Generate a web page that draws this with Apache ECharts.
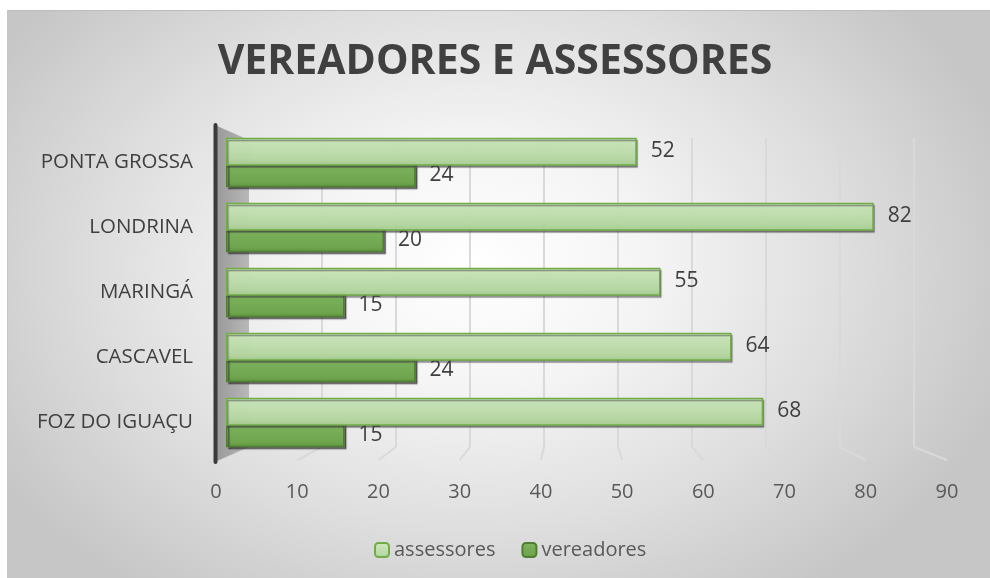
<!DOCTYPE html>
<html>
<head>
<meta charset="utf-8">
<script src="https://cdn.jsdelivr.net/npm/echarts@6/dist/echarts.min.js"></script>
<style>
html,body{margin:0;padding:0;background:#fff;width:990px;height:578px;overflow:hidden;}
#bg{position:absolute;left:7px;top:10px;width:1000px;height:600px;border-top:1px solid #bdbdbd;border-left:1px solid #c4c4c4;
background:radial-gradient(ellipse 560px 400px at 465px 255px,#ffffff 0%,#f5f5f5 30%,#dfdfdf 65%,#c6c6c6 100%);}
#main{position:absolute;left:0;top:0;width:990px;height:578px;}
</style>
</head>
<body>
<div id="bg"></div>
<div id="main"></div>
<script>
const categories = ['FOZ DO IGUAÇU', 'CASCAVEL', 'MARINGÁ', 'LONDRINA', 'PONTA GROSSA'];
const assessores = [68, 64, 55, 82, 52];
const vereadores = [15, 24, 15, 20, 24];
const xTicks = [0, 10, 20, 30, 40, 50, 60, 70, 80, 90];
const titleText = 'VEREADORES E ASSESSORES';

const font = '"Open Sans", "Noto Sans", sans-serif';
const chart = echarts.init(document.getElementById('main'), null, {renderer: 'canvas'});

const labelStyle = {show: true, position: 'right', distance: 14, color: '#404040', fontSize: 21, fontFamily: font};

const option = {
  backgroundColor: 'transparent',
  animation: false,
  title: {
    text: titleText, left: 'center', top: 37,
    textStyle: {fontFamily: font, fontWeight: 'bold', fontSize: 41, color: '#404040'}
  },
  legend: {
    bottom: 13, left: 369, itemWidth: 14, itemHeight: 14, itemGap: 26,
    data: ['assessores', 'vereadores'],
    textStyle: {fontFamily: font, fontSize: 20, color: '#595959'}
  },
  grid: [
    {left: 226, width: 711, top: 130, height: 325},
    {left: 216, width: 731, top: 130, height: 330},
    {left: 248, width: 666, top: 138, height: 309}
  ],
  xAxis: [
    {gridIndex: 0, type: 'value', min: 0, max: 90, interval: 10, show: false, splitLine: {show: false}},
    {gridIndex: 1, type: 'value', min: 0, max: 90, interval: 10,
      axisLine: {show: false}, axisTick: {show: false}, splitLine: {show: false},
      axisLabel: {margin: 22, color: '#595959', fontSize: 20, fontFamily: font,
        formatter: v => xTicks.indexOf(v) >= 0 ? String(v) : ''}},
    {gridIndex: 2, type: 'value', min: 0, max: 90, interval: 10,
      axisLine: {show: false}, axisTick: {show: false}, axisLabel: {show: false},
      splitLine: {show: true, lineStyle: {color: '#d9d9d9', width: 2}}}
  ],
  yAxis: [
    {gridIndex: 0, type: 'category', data: categories,
      axisLine: {show: false}, axisTick: {show: false},
      axisLabel: {margin: 33, color: '#404040', fontSize: 20.5, fontFamily: font}},
    {gridIndex: 1, type: 'value', min: 0, max: 1, show: false},
    {gridIndex: 2, type: 'value', min: 0, max: 1, show: false}
  ],
  series: [
    {
      name: 'assessores', type: 'bar', xAxisIndex: 0, yAxisIndex: 0,
      data: assessores, barWidth: 28, barGap: '-12%', z: 3,
      itemStyle: {
        color: new echarts.graphic.LinearGradient(0, 0, 0, 1, [
          {offset: 0, color: 'rgba(206,234,190,0.95)'},
          {offset: 0.75, color: 'rgba(184,218,164,0.95)'},
          {offset: 1, color: 'rgba(168,206,146,0.95)'}]),
        borderColor: '#70ad47', borderWidth: 1.5,
        shadowColor: 'rgba(60,60,60,0.55)', shadowOffsetX: 1, shadowOffsetY: 2, shadowBlur: 1
      },
      label: Object.assign({}, labelStyle, {offset: [0, -1]})
    },
    {
      name: 'vereadores', type: 'bar', xAxisIndex: 0, yAxisIndex: 0,
      data: vereadores, barWidth: 25, z: 2,
      itemStyle: {
        color: new echarts.graphic.LinearGradient(0, 0, 0, 1, [
          {offset: 0, color: '#7fb460'},
          {offset: 0.8, color: '#6ea54d'},
          {offset: 1, color: '#5e9440'}]),
        borderColor: '#4f7f32', borderWidth: 1.5,
        shadowColor: 'rgba(40,40,40,0.6)', shadowOffsetX: 2, shadowOffsetY: 2, shadowBlur: 1
      },
      label: labelStyle
    }
  ]
};
chart.setOption(option);

// perspective decoration: back-wall gridline floors and left wall
const graphics = [];
graphics.push({type: 'polygon', z: 0, silent: true,
  shape: {points: [[217, 126], [249, 140], [249, 447], [217, 461]]},
  style: {fill: new echarts.graphic.LinearGradient(0, 0, 1, 0, [
    {offset: 0, color: '#9a9a9a'}, {offset: 1, color: '#b8b8b8'}])}});
graphics.push({type: 'line', z: 1, silent: true,
  shape: {x1: 215.5, y1: 125, x2: 215.5, y2: 462},
  style: {stroke: '#3a3a3a', lineWidth: 4, lineCap: 'round'}});
xTicks.forEach(v => {
  if (v === 0) return;
  const back = chart.convertToPixel({gridIndex: 2}, [v, 0]);
  const front = chart.convertToPixel({gridIndex: 1}, [v, 0]);
  graphics.push({type: 'line', z: 0, silent: true,
    shape: {x1: back[0], y1: back[1], x2: front[0], y2: front[1]},
    style: {stroke: '#d9d9d9', lineWidth: 2}});
});
chart.setOption({graphic: graphics});
</script>
</body>
</html>
